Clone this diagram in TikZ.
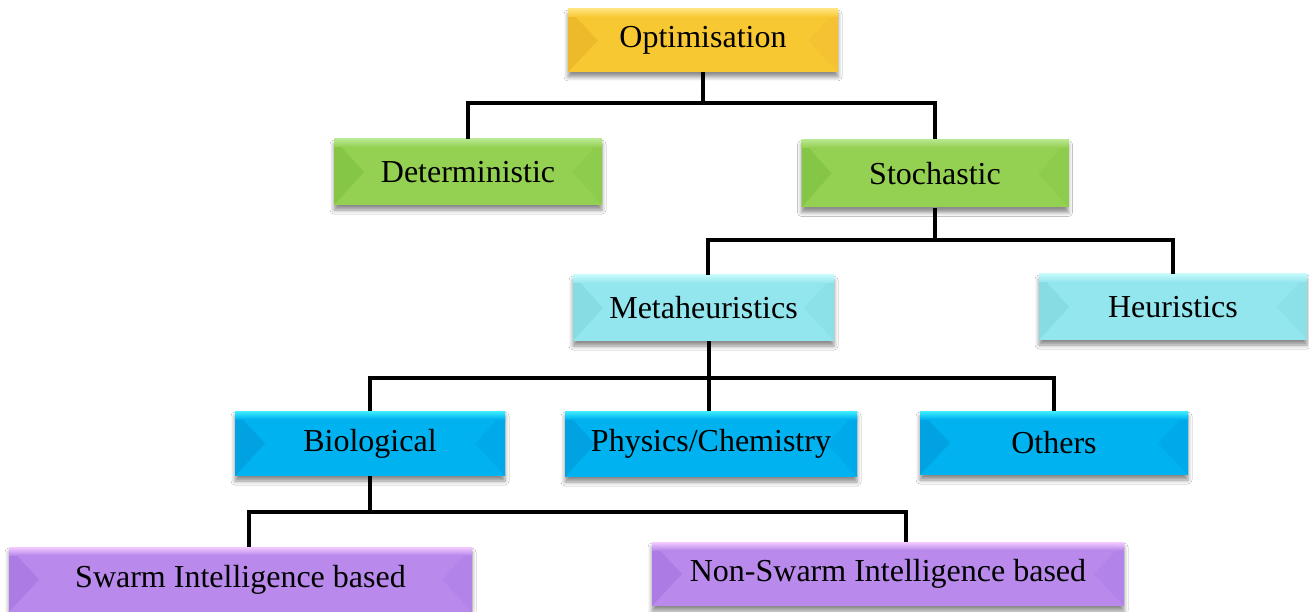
\documentclass[tikz,border=0pt]{standalone}
\usepackage{fontspec}
\setmainfont{Liberation Serif}
\usetikzlibrary{shadows.blur}
\definecolor{goldM}{HTML}{F8C832}
\definecolor{goldL}{HTML}{EDBA2C}
\definecolor{goldR}{HTML}{F4C232}
\definecolor{goldT}{HTML}{FFE27A}
\definecolor{grnM}{HTML}{94D052}
\definecolor{grnL}{HTML}{86C646}
\definecolor{grnR}{HTML}{8DCC4C}
\definecolor{grnT}{HTML}{B8E890}
\definecolor{cyaM}{HTML}{94E6EE}
\definecolor{cyaL}{HTML}{86DCE2}
\definecolor{cyaR}{HTML}{8CE0E8}
\definecolor{cyaT}{HTML}{C4FAFC}
\definecolor{bluM}{HTML}{00B2F0}
\definecolor{bluL}{HTML}{00A2E2}
\definecolor{bluR}{HTML}{00AAEA}
\definecolor{bluT}{HTML}{40EEFF}
\definecolor{purM}{HTML}{B98AEC}
\definecolor{purL}{HTML}{AC7CE4}
\definecolor{purR}{HTML}{B284EA}
\definecolor{purT}{HTML}{F4CCFF}
\tikzset{
  bev/.style n args={4}{rectangle, inner sep=0pt, fill=#1,
    font=\fontsize{32}{36}\selectfont,
    blur shadow={shadow xshift=0pt, shadow yshift=-5pt, shadow blur radius=4pt, shadow opacity=45},
    path picture={
      \fill[#2] (path picture bounding box.north west) -- ([xshift=30pt]path picture bounding box.west) -- (path picture bounding box.south west) -- cycle;
      \fill[#3] (path picture bounding box.north east) -- ([xshift=-30pt]path picture bounding box.east) -- (path picture bounding box.south east) -- cycle;
      \shade[top color=#4, bottom color=#1] (path picture bounding box.north west) rectangle ([yshift=-8pt]path picture bounding box.north east);
    }},
  yelbox/.style={bev={goldM}{goldL}{goldR}{goldT}},
  grnbox/.style={bev={grnM}{grnL}{grnR}{grnT}},
  cyabox/.style={bev={cyaM}{cyaL}{cyaR}{cyaT}},
  blubox/.style={bev={bluM}{bluL}{bluR}{bluT}},
  purbox/.style={bev={purM}{purL}{purR}{purT}},
  conn/.style={draw=black, line width=3.2pt},
}
\begin{document}
\begin{tikzpicture}[x=1pt, y=-1pt]
\useasboundingbox[fill=white] (0,0) rectangle (1309,612);
\node[yelbox, minimum width=270pt, minimum height=63pt] (opt) at (703,40.5) {Optimisation};
\node[grnbox, minimum width=268pt, minimum height=66pt] (det) at (468,172) {Deterministic};
\node[grnbox, minimum width=267pt, minimum height=68pt] (sto) at (935,173.5) {Stochastic};
\node[cyabox, minimum width=261pt, minimum height=66pt] (meta) at (703.5,308) {Metaheuristics};
\node[cyabox, minimum width=268pt, minimum height=66pt] (heur) at (1173,307) {Heuristics};
\node[blubox, minimum width=270pt, minimum height=65pt] (bio) at (370,443.5) {Biological};
\node[blubox, minimum width=292pt, minimum height=66pt] (phys) at (711,444) {Physics/Chemistry};
\node[blubox, minimum width=268pt, minimum height=64pt] (oth) at (1054,443) {Others};
\node[purbox, minimum width=463pt, minimum height=65pt] (swarm) at (240.5,579.5) {Swarm Intelligence based};
\node[purbox, minimum width=472pt, minimum height=64pt] (nonswarm) at (888,574) {Non-Swarm Intelligence based};
\coordinate (j1) at (703,103);
\coordinate (j2) at (935,240);
\coordinate (j3) at (709,378);
\coordinate (j4) at (370,512);
\draw[conn] (opt.south) -- (j1);
\draw[conn] (det.north) |- (j1) -| (sto.north);
\draw[conn] (sto.south) -- (j2);
\draw[conn] ([xshift=4.5pt]meta.north) |- (j2) -| (heur.north);
\draw[conn] ([xshift=5.5pt]meta.south) -- (j3);
\draw[conn] (bio.north) |- (j3) -| (oth.north);
\draw[conn] (j3) -- ([xshift=-2pt]phys.north);
\draw[conn] (bio.south) -- (j4);
\draw[conn] ([xshift=8.5pt]swarm.north) |- (j4) -| ([xshift=18pt]nonswarm.north);
\end{tikzpicture}
\end{document}
